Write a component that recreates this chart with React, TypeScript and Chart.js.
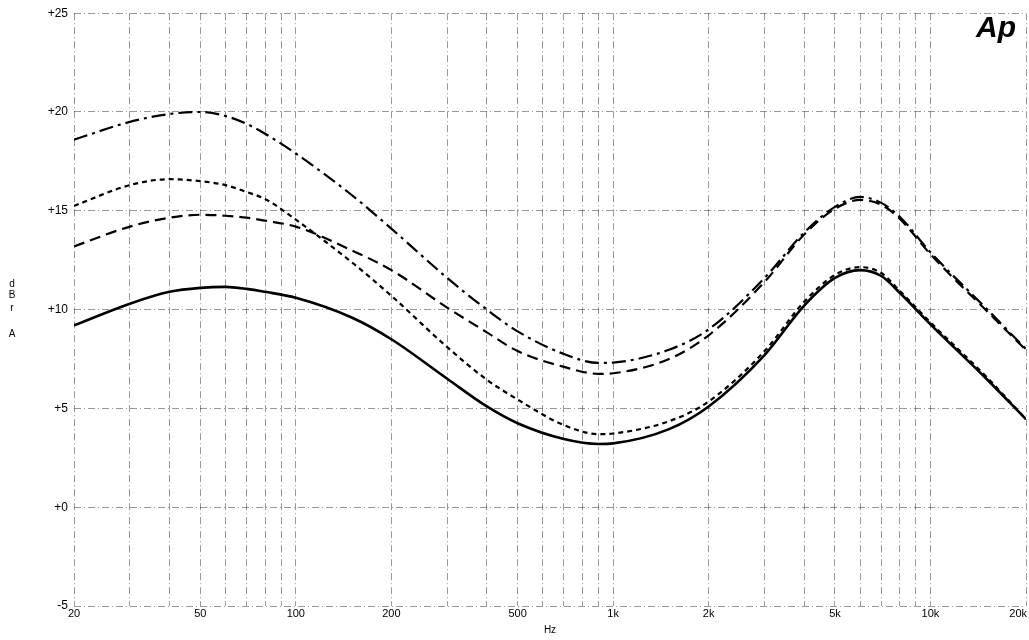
import React, { useEffect, useRef } from "react";
import { Chart, registerables } from "chart.js";

Chart.register(...registerables);

const freqs = [20, 30, 40, 50, 60, 70, 80, 100, 150, 200, 300, 400, 500, 700, 900, 1000, 1500, 2000, 3000, 4000, 5000, 6000, 7000, 8000, 10000, 15000, 20000];

// Curves (dBr A)
const solidCurve = [9.2, 10.3, 10.9, 11.1, 11.15, 11.05, 10.9, 10.6, 9.6, 8.5, 6.5, 5.1, 4.25, 3.45, 3.2, 3.23, 3.95, 5.1, 7.7, 10.2, 11.6, 12.0, 11.7, 10.85, 9.25, 6.5, 4.45];
const shortDashCurve = [15.25, 16.3, 16.6, 16.5, 16.3, 15.95, 15.6, 14.55, 12.4, 10.7, 8.1, 6.45, 5.45, 4.15, 3.7, 3.73, 4.35, 5.35, 7.9, 10.4, 11.75, 12.15, 11.85, 10.95, 9.35, 6.6, 4.45];
const longDashCurve = [13.2, 14.2, 14.65, 14.8, 14.75, 14.65, 14.5, 14.2, 13.0, 12.0, 10.1, 8.85, 7.9, 7.1, 6.75, 6.78, 7.5, 8.7, 11.4, 13.8, 15.1, 15.55, 15.3, 14.6, 12.8, 9.95, 7.95];
const dashDotCurve = [18.6, 19.5, 19.9, 20.0, 19.8, 19.4, 18.9, 17.9, 15.8, 14.1, 11.6, 10.0, 8.9, 7.75, 7.3, 7.32, 7.97, 9.0, 11.6, 13.9, 15.2, 15.7, 15.4, 14.7, 12.9, 10.05, 8.0];

// Axis grid / tick labels
const xGridValues = [20, 30, 40, 50, 60, 70, 80, 90, 100, 200, 300, 400, 500, 600, 700, 800, 900, 1000, 2000, 3000, 4000, 5000, 6000, 7000, 8000, 9000, 10000, 20000];
const xTickValues = [20, 50, 100, 200, 500, 1000, 2000, 5000, 10000, 20000];
const xTickLabels = ["20", "50", "100", "200", "500", "1k", "2k", "5k", "10k", "20k"];
const yTickValues = [-5, 0, 5, 10, 15, 20, 25];
const yTickLabels = ["-5", "+0", "+5", "+10", "+15", "+20", "+25"];
const yTitleLetters = ["d", "B", "r", "A"];
const logoText = "Ap";

const FONT = '"Liberation Sans", Arial, sans-serif';

const toPoints = (vals: number[]) => freqs.map((f, i) => ({ x: f, y: vals[i] }));

const textPlugin = {
  id: "apText",
  afterDraw(chart: any) {
    const ctx = chart.ctx as CanvasRenderingContext2D;
    const area = chart.chartArea;
    ctx.save();
    ctx.fillStyle = "#000";
    // y-axis title, stacked letters
    ctx.textAlign = "center";
    ctx.textBaseline = "alphabetic";
    ctx.font = `10px ${FONT}`;
    const ys = [287, 298, 311, 337];
    yTitleLetters.forEach((l, i) => ctx.fillText(l, 12, ys[i]));
    // last x tick label, kept inside the canvas
    const lastLabel = xTickLabels[xTickLabels.length - 1];
    ctx.font = `11px ${FONT}`;
    ctx.textAlign = "right";
    ctx.textBaseline = "top";
    ctx.fillText(lastLabel, area.right + 1, area.bottom + 2);
    // logo
    ctx.font = `italic bold 30px ${FONT}`;
    ctx.textAlign = "left";
    ctx.textBaseline = "alphabetic";
    ctx.fillText(logoText, 976, 37);
    ctx.restore();
  },
};

export default function App() {
  const ref = useRef<HTMLCanvasElement | null>(null);

  useEffect(() => {
    if (!ref.current) return;
    const gridColor = "rgba(0,0,0,0.4)";
    const gridDash = [7, 3, 1, 3];
    const common = {
      borderColor: "#000",
      pointRadius: 0,
      cubicInterpolationMode: "monotone",
      fill: false,
    };
    const chart = new Chart(ref.current, {
      type: "line",
      data: {
        datasets: [
          { ...common, label: "dash-dot", data: toPoints(dashDotCurve), borderWidth: 2.2, borderDash: [14, 5, 3, 5] },
          { ...common, label: "long dash", data: toPoints(longDashCurve), borderWidth: 2.2, borderDash: [11, 6] },
          { ...common, label: "short dash", data: toPoints(shortDashCurve), borderWidth: 2.2, borderDash: [5, 4] },
          { ...common, label: "solid", data: toPoints(solidCurve), borderWidth: 2.6 },
        ],
      },
      options: {
        responsive: false,
        animation: false,
        events: [],
        layout: { padding: { top: 12, right: 3, left: 0, bottom: 0 } },
        plugins: { legend: { display: false }, tooltip: { enabled: false } },
        scales: {
          x: {
            type: "logarithmic",
            min: 20,
            max: 20000,
            afterBuildTicks: (scale: any) => {
              scale.ticks = xGridValues.map((v) => ({ value: v }));
            },
            afterFit: (scale: any) => {
              scale.height = 34;
              scale.paddingLeft = 0;
              scale.paddingRight = 0;
            },
            border: { display: false, dash: gridDash },
            grid: { color: gridColor, lineWidth: 1, drawTicks: false },
            ticks: {
              autoSkip: false,
              maxRotation: 0,
              minRotation: 0,
              padding: 1,
              color: "#000",
              font: { family: FONT, size: 11 },
              callback: (v: any) => {
                const i = xTickValues.indexOf(Number(v));
                return i >= 0 && i < xTickValues.length - 1 ? xTickLabels[i] : "";
              },
            },
            title: {
              display: true,
              text: "Hz",
              color: "#000",
              font: { family: FONT, size: 10 },
              padding: { top: 0, bottom: 4 },
            },
          },
          y: {
            type: "linear",
            min: -5,
            max: 25,
            afterBuildTicks: (scale: any) => {
              scale.ticks = yTickValues.map((v) => ({ value: v }));
            },
            afterFit: (scale: any) => {
              scale.width = 74;
            },
            border: { display: false, dash: gridDash },
            grid: { color: gridColor, lineWidth: 1, drawTicks: false },
            ticks: {
              padding: 6,
              color: "#000",
              font: { family: FONT, size: 12 },
              callback: (v: any) => {
                const i = yTickValues.indexOf(Number(v));
                return i >= 0 ? yTickLabels[i] : "";
              },
            },
          },
        },
      } as any,
      plugins: [textPlugin],
    });
    return () => chart.destroy();
  }, []);

  return (
    <div style={{ position: "fixed", left: 0, top: 0, width: 1029, height: 640, background: "#fff" }}>
      <canvas ref={ref} width={1029} height={640} style={{ display: "block" }} />
    </div>
  );
}
